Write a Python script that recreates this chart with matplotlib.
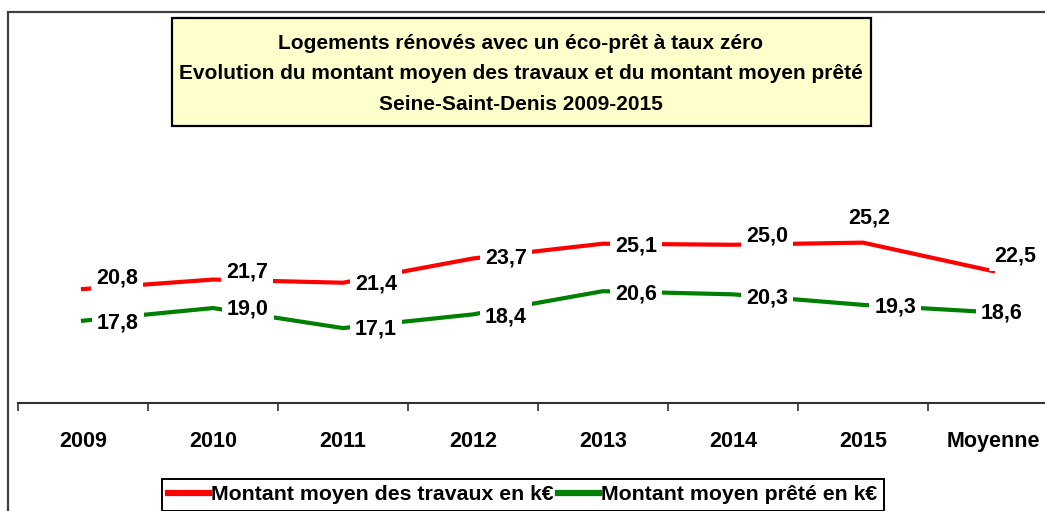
import matplotlib
matplotlib.use("Agg")
import matplotlib.pyplot as plt
from matplotlib.patches import Rectangle
from matplotlib.lines import Line2D

plt.rcParams['font.family'] = ['Liberation Sans', 'DejaVu Sans']

categories = ["2009", "2010", "2011", "2012", "2013", "2014", "2015", "Moyenne"]
travaux = [20.8, 21.7, 21.4, 23.7, 25.1, 25.0, 25.2, 22.5]
prete = [17.8, 19.0, 17.1, 18.4, 20.6, 20.3, 19.3, 18.6]
series_names = ["Montant moyen des travaux en k€", "Montant moyen prêté en k€"]
title_lines = ["Logements rénovés avec un éco-prêt à taux zéro",
               "Evolution du montant moyen des travaux et du montant moyen prêté",
               "Seine-Saint-Denis 2009-2015"]

# label offsets in pixels (dx right, dy up) -- styling only
red_off = [(34, 11), (34, 8), (33, -1), (33, 0), (33, -2), (34, 9), (6, 25), (22, 15)]
green_off = [(35, -2), (35, -1), (33, -1), (33, -3), (33, -3), (34, -4), (32, -2), (9, -1)]

W, H = 1045, 511
fig = plt.figure(figsize=(W / 100, H / 100), dpi=100)

def fx(px):
    return px / W

def fy(py):
    return 1 - py / H

# outer frame (left and top edges visible)
fig.add_artist(Rectangle((fx(8), fy(600)), fx(1100), fy(12) - fy(600),
                         transform=fig.transFigure, fill=False,
                         edgecolor='#404040', linewidth=1.6, clip_on=False))

ax = fig.add_axes([fx(18), fy(403), fx(1040), fy(192) - fy(403)])
ax.set_facecolor('none')
x = list(range(len(categories)))
ax.plot(x, travaux, color='#FF0000', linewidth=3.0, solid_joinstyle='miter', zorder=2,
        label=series_names[0])
ax.plot(x, prete, color='#008000', linewidth=3.0, solid_joinstyle='miter', zorder=2,
        label=series_names[1])
ax.set_xlim(-0.5, len(categories) - 0.5)
ax.set_ylim(10, 30)

for vals, offs in ((travaux, red_off), (prete, green_off)):
    for xi, v, (dx, dy) in zip(x, vals, offs):
        ax.annotate(f"{v:.1f}".replace('.', ','), (xi, v), xytext=(dx, dy),
                    textcoords='offset pixels', ha='center', va='center',
                    fontsize=15.5, fontweight='bold', color='black', zorder=5,
                    bbox=dict(boxstyle='square,pad=0.22', facecolor='white',
                              edgecolor='none'))

for s in ('left', 'right', 'top'):
    ax.spines[s].set_visible(False)
ax.spines['bottom'].set_color('#303030')
ax.spines['bottom'].set_linewidth(1.5)
ax.set_yticks([])
ax.set_xticks(x)
ax.set_xticklabels(categories, fontsize=15.5, fontweight='bold')
ax.tick_params(axis='x', which='major', length=0, pad=20)
ax.set_xticks([i - 0.5 for i in range(len(categories) + 1)], minor=True)
ax.tick_params(axis='x', which='minor', length=6, width=1.2, color='#303030',
               direction='out')

# title box
fig.add_artist(Rectangle((fx(172), fy(126)), fx(871 - 172), fy(18) - fy(126),
                         transform=fig.transFigure, facecolor='#FFFFCC',
                         edgecolor='black', linewidth=1.6))
for i, line in enumerate(title_lines):
    fig.text(fx(521), fy(43 + 30.5 * i), line, ha='center', va='center',
             fontsize=15, fontweight='bold')

handles = [Line2D([], [], color='#FF0000', linewidth=4.5),
           Line2D([], [], color='#008000', linewidth=4.5)]
leg = fig.legend(handles, series_names, loc='upper left',
                 bbox_to_anchor=(fx(162), fy(479)), ncol=2, frameon=True,
                 fancybox=False, edgecolor='black', framealpha=1,
                 prop={'size': 15.3, 'weight': 'bold'}, handlelength=1.9,
                 handletextpad=0.12, columnspacing=0.2, borderpad=0.3,
                 borderaxespad=0)
leg.get_frame().set_linewidth(1.4)

fig.savefig('out.png', dpi=100)
